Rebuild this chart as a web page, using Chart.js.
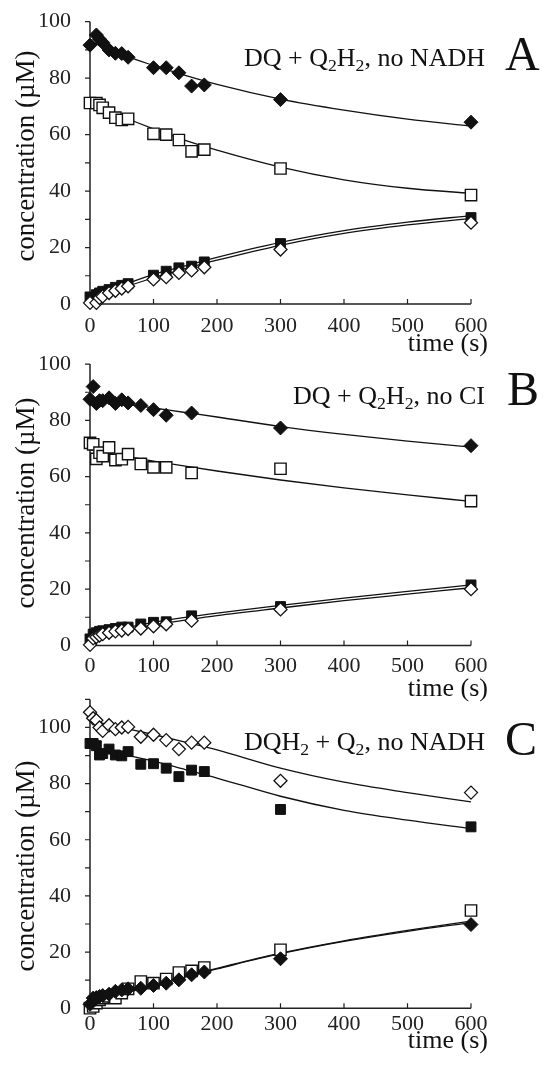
<!DOCTYPE html>
<html><head><meta charset="utf-8">
<script src="https://cdn.jsdelivr.net/npm/chart.js@4"></script>
<style>
html,body{margin:0;padding:0;background:#fff;width:544px;height:1065px;overflow:hidden;position:relative}
canvas{position:absolute;left:0}
</style></head><body>
<canvas id="cA" width="544" height="360" style="top:0px;width:544px;height:360px"></canvas>
<canvas id="cB" width="544" height="360" style="top:345px;width:544px;height:360px"></canvas>
<canvas id="cC" width="544" height="375" style="top:690px;width:544px;height:375px"></canvas>
<script>
// ---------- data ----------
const xTicks = [0,100,200,300,400,500,600];
const yTickLabels = [0,20,40,60,80,100];
const fitTimes = [0,50,100,150,200,300,400,500,600];

// Panel A: DQ + Q2H2, no NADH
const timesA = [0,10,15,20,30,40,50,60,100,120,140,160,180,300,600];
const aFilledDiamond = [91.7,95.3,93.8,92.6,90,88.8,88.7,87.4,83.7,83.7,81.9,77.2,77.6,72.4,64.4];
const aOpenSquare   = [71.2,71.2,70.5,69.5,67.8,66,65.2,65.6,60.3,60,58.1,54.1,54.7,48,38.6];
const aFilledSquare = [2.5,3.3,3.9,4.5,5.1,5.9,6.6,7.2,10.2,11.6,12.8,13.4,14.9,21.4,30.6];
const aOpenDiamond  = [0.4,0.4,2.1,2.7,3.9,4.7,5.5,6.3,8.7,9.5,11,11.9,13,19.3,28.8];
const aFitDiamond = [93,88.3,84.5,81,77.8,72.6,68.7,65.5,63];
const aFitSquare  = [71.5,66.5,62,58,54.5,48.5,44,41,39.2];
const aFitUpper   = [2,6.5,10.5,13.5,16.5,21.8,26,29,31.3];
const aFitLower   = [1,5.5,9.3,12.5,15.5,20.8,25,28,30.3];

// Panel B: DQ + Q2H2, no CI
const timesB = [0,5,10,15,20,30,40,50,60,80,100,120,160,300,600];
const bFilledDiamond = [87.5,92,86,87,87,88,86,87.3,86.2,85.3,83.8,81.8,82.6,77.3,71];
const bOpenSquare   = [72,71.5,66.3,68.5,67.3,70.4,65.9,66.2,68,64.5,63.3,63.3,61.3,62.8,51.3];
const bFilledSquare = [2.3,4,4.5,5,5.2,5.6,6,6.5,6.5,7.6,8.2,8.4,10.5,13.8,21.5];
const bOpenDiamond  = [0.2,2.5,3,3.5,4,4.5,5,5.3,5.8,6,6.8,7.5,8.8,12.8,20];
const bFitDiamond = [87.5,86,84.4,82.8,81.2,77.8,75,72.6,70.5];
const bFitSquare  = [69.5,67.5,65.5,63.7,62,58.8,56,53.5,51.2];
const bFitUpper   = [3.5,6,8.2,10,11.5,14.2,16.8,19.2,21.5];
const bFitLower   = [2.5,5,7.3,9,10.6,13.3,15.9,18.2,20.5];

// Panel C: DQH2 + Q2, no NADH
const timesC = [0,5,10,15,20,30,40,50,60,80,100,120,140,160,180,300,600];
const cOpenDiamond  = [105.4,103.3,102.6,100,98.8,100.8,99.4,100,100.2,96.7,97.4,95.5,92.3,94.6,94.6,81,76.8];
const cFilledSquare = [94.3,94.3,93.5,90.2,90.7,92.3,90.2,89.9,91.4,86.9,87.1,85.5,82.5,84.8,84.3,70.8,64.6];
const cOpenSquare   = [0,0.6,1.8,3,3.6,4.2,3.6,5.4,6.9,9.5,8.9,10.4,12.7,13.3,14.5,20.8,34.8];
const cFilledDiamond= [1.4,3.6,3.8,4.2,4.5,5,6,6.5,6.9,7.1,8.1,8.9,10.1,11.9,12.9,17.6,29.8];
const cFitDiamond = [102.5,100,97.5,94.8,92,85.5,80.5,76.8,73.5];
const cFitSquare  = [93,90.5,88,85,82,75.5,70.5,67,64];
const cFitUpper   = [1.5,5.2,8.6,11.5,14.2,19.6,24,27.7,31];
const cFitLower   = [1.2,4.8,8.3,11.2,14,19.4,23.8,27.4,30.5];

// ---------- styles ----------
const FAMILY = "'Liberation Serif','DejaVu Serif',serif";
const INK = '#111';
const markerStyles = {
  fd: {pointStyle:'rectRot', pointRadius:7,   pointBackgroundColor:INK, pointBorderColor:INK, pointBorderWidth:1},
  od: {pointStyle:'rectRot', pointRadius:6.5, pointBackgroundColor:'#fff', pointBorderColor:INK, pointBorderWidth:1.3},
  fs: {pointStyle:'rect',    pointRadius:7,   pointBackgroundColor:INK, pointBorderColor:INK, pointBorderWidth:1},
  os: {pointStyle:'rect',    pointRadius:8,   pointBackgroundColor:'#fff', pointBorderColor:INK, pointBorderWidth:1.4}
};
const toXY = (xs, ys) => xs.map((x,i) => ({x, y: ys[i]}));

function markerSet(times, values, kind) {
  return Object.assign({data: toXY(times, values), showLine:false, order:1, clip:false}, markerStyles[kind]);
}
function fitSet(values) {
  return {data: toXY(fitTimes, values), showLine:true, borderColor:INK, borderWidth:1.3,
          pointRadius:0, cubicInterpolationMode:'monotone', order:2, clip:false, fill:false};
}

function drawRich(ctx, parts, xRight, base, size) {
  const fonts = parts.map(p => (p[1] ? size*0.68 : size) + 'px ' + FAMILY);
  let w = 0;
  parts.forEach((p,i) => { ctx.font = fonts[i]; w += ctx.measureText(p[0]).width; });
  let xx = xRight - w;
  ctx.textAlign = 'left'; ctx.textBaseline = 'alphabetic';
  parts.forEach((p,i) => {
    ctx.font = fonts[i];
    ctx.fillText(p[0], xx, base + (p[1] ? size*0.2 : 0));
    xx += ctx.measureText(p[0]).width;
  });
}

const decor = {
  id: 'decor',
  beforeDatasetsDraw(chart) {
    const {ctx, chartArea: ca, scales: {x, y}} = chart;
    ctx.save();
    ctx.strokeStyle = '#222';
    ctx.lineWidth = 1.5;
    ctx.beginPath();
    ctx.moveTo(ca.left, y.getPixelForValue(y.max));
    ctx.lineTo(ca.left, ca.bottom);
    ctx.lineTo(x.getPixelForValue(x.max), ca.bottom);
    ctx.stroke();
    ctx.lineWidth = 1.2;
    ctx.beginPath();
    y.ticks.forEach(t => { const py = y.getPixelForValue(t.value); ctx.moveTo(ca.left-5, py); ctx.lineTo(ca.left, py); });
    x.ticks.forEach(t => { const px = x.getPixelForValue(t.value); ctx.moveTo(px, ca.bottom); ctx.lineTo(px, ca.bottom-5); });
    ctx.stroke();
    ctx.restore();
  },
  afterDraw(chart, args, o) {
    const ctx = chart.ctx;
    ctx.save();
    ctx.fillStyle = INK;
    drawRich(ctx, o.parts, o.textRight, o.textBase, 26);
    ctx.font = '48px ' + FAMILY;
    ctx.textAlign = 'left'; ctx.textBaseline = 'alphabetic';
    ctx.fillText(o.letter, o.letterLeft, o.letterBase);
    ctx.font = '26px ' + FAMILY;
    ctx.textAlign = 'right'; ctx.textBaseline = 'middle';
    ctx.fillText('time (s)', 488, o.timeY);
    ctx.translate(27, o.yTitleY);
    ctx.rotate(-Math.PI/2);
    ctx.textAlign = 'center'; ctx.textBaseline = 'middle';
    ctx.font = '27px ' + FAMILY;
    ctx.fillText('concentration (\u00b5M)', 0, 0);
    ctx.restore();
  }
};

function makeChart(id, datasets, cfg) {
  return new Chart(document.getElementById(id), {
    type: 'scatter',
    data: {datasets},
    plugins: [decor],
    options: {
      responsive: false, animation: false, events: [],
      layout: {padding: {left: 0, right: 73, top: cfg.top, bottom: 0}},
      plugins: {legend:{display:false}, tooltip:{enabled:false}, decor: cfg.decor},
      scales: {
        x: {type:'linear', min:0, max:600,
            grid:{display:false}, border:{display:false},
            afterBuildTicks: s => { s.ticks = xTicks.map(v => ({value:v})); },
            ticks:{padding:cfg.xpad, color:'#222', font:{family:FAMILY, size:22}, maxRotation:0, autoSkip:false},
            afterFit: s => { s.height = cfg.xh; s.paddingLeft = 0; s.paddingRight = 0; }},
        y: {type:'linear', min:0, max:cfg.ymax,
            grid:{display:false}, border:{display:false},
            ticks:{stepSize:10, padding:11, color:'#222', font:{family:FAMILY, size:22}, autoSkip:false,
                   callback: v => yTickLabels.includes(v) ? String(v) : ''},
            afterFit: s => { s.width = 90; s.paddingTop = 0; s.paddingBottom = 0; }}
      }
    }
  });
}

makeChart('cA', [
  fitSet(aFitDiamond), fitSet(aFitSquare), fitSet(aFitUpper), fitSet(aFitLower),
  markerSet(timesA, aOpenDiamond, 'od'), markerSet(timesA, aFilledSquare, 'fs'),
  markerSet(timesA, aOpenSquare, 'os'), markerSet(timesA, aFilledDiamond, 'fd')
], {top:21.7, xh:56, ymax:100, xpad:1, decor:{
  parts:[['DQ + Q'],['2',1],['H'],['2',1],[', no NADH']], textRight:485, textBase:66, letter:'A', letterLeft:505, letterBase:70,
  timeY:344, yTitleY:156}});

makeChart('cB', [
  fitSet(bFitDiamond), fitSet(bFitSquare), fitSet(bFitUpper), fitSet(bFitLower),
  markerSet(timesB, bOpenDiamond, 'od'), markerSet(timesB, bFilledSquare, 'fs'),
  markerSet(timesB, bOpenSquare, 'os'), markerSet(timesB, bFilledDiamond, 'fd')
], {top:19.1, xh:59.6, ymax:100, xpad:0, decor:{
  parts:[['DQ + Q'],['2',1],['H'],['2',1],[', no CI']], textRight:485, textBase:59, letter:'B', letterLeft:507, letterBase:60,
  timeY:344, yTitleY:158}});

makeChart('cC', [
  fitSet(cFitDiamond), fitSet(cFitSquare), fitSet(cFitUpper), fitSet(cFitLower),
  markerSet(timesC, cFilledDiamond, 'fd'), markerSet(timesC, cOpenSquare, 'os'),
  markerSet(timesC, cFilledSquare, 'fs'), markerSet(timesC, cOpenDiamond, 'od')
], {top:8.8, xh:56.8, ymax:110, xpad:-5, decor:{
  parts:[['DQH'],['2',1],[' + Q'],['2',1],[', no NADH']], textRight:485, textBase:60, letter:'C', letterLeft:505, letterBase:65,
  timeY:351, yTitleY:176}});
</script>
</body></html>
